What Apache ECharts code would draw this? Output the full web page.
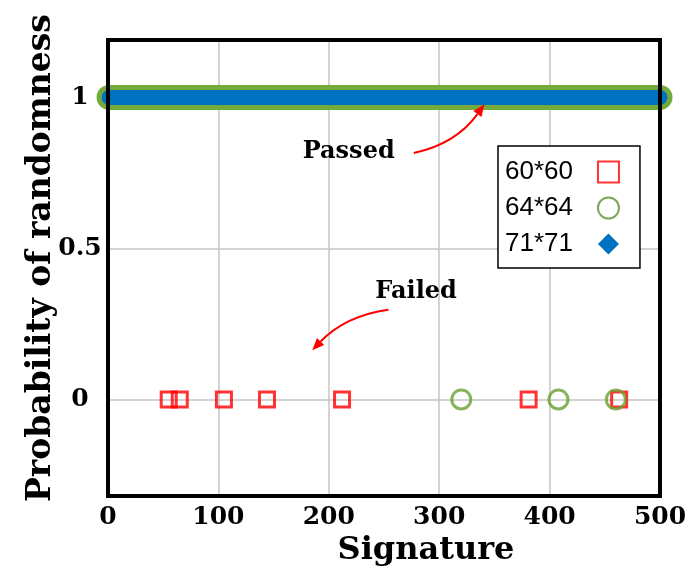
<!DOCTYPE html>
<html><head><meta charset="utf-8">
<script src="https://cdn.jsdelivr.net/npm/echarts@6/dist/echarts.min.js"></script>
<style>html,body{margin:0;padding:0;background:#fff}#c{width:700px;height:572px}</style>
</head><body><div id="c"></div>
<script>
// ---- data ----
const seriesNames = ['60*60', '64*64', '71*71'];
// signatures that failed (probability of randomness = 0)
const failed6060 = [55, 65, 105, 144, 212, 381, 463];
const failed6464 = [320, 408, 460];
const failedValue = 0;
// signatures that passed (probability = 1): dense run across the whole range
const passedRange6464 = [1, 500];
const passedRange7171 = [1, 500];
const passedValue = 1;
const xTicks = [0, 100, 200, 300, 400, 500];
const yTicks = [0, 0.5, 1];
const xTitle = 'Signature';
const yTitle = 'Probability of randomness';
const notePassed = 'Passed';
const noteFailed = 'Failed';

// ---- style ----
const SERIF = 'DejaVu Serif';
const RED = '#ff0000', GREEN = '#74aa3a', CIRCLE_GREEN = '#6aa032', BLUE = '#0070c0';
const X_MIN = xTicks[0], X_MAX = xTicks[xTicks.length - 1];
const Y_MIN = -0.32, Y_MAX = 1.19;

const chart = echarts.init(document.getElementById('c'), null, {renderer: 'canvas'});
const borderLine = {show: true, onZero: false, lineStyle: {color: '#000', width: 4, cap: 'square'}};
const tickFont = {fontFamily: SERIF, fontWeight: 'bold', fontSize: 25, color: '#000'};

chart.setOption({
  animation: false,
  backgroundColor: '#fff',
  grid: {left: 108, right: 40, top: 40, bottom: 72, containLabel: false},
  xAxis: [
    {type: 'value', min: X_MIN, max: X_MAX, interval: 100, position: 'bottom', z: 5,
     axisLine: borderLine, axisTick: {show: false}, splitLine: {show: false},
     axisLabel: Object.assign({margin: 9}, tickFont),
     name: xTitle, nameLocation: 'middle', nameGap: 32,
     nameTextStyle: {fontFamily: SERIF, fontWeight: 'bold', fontSize: 32, color: '#000', padding: [0, 0, 0, 84]}},
    {type: 'value', min: X_MIN, max: X_MAX, interval: 100, position: 'top', z: 5,
     axisLine: borderLine, axisTick: {show: false}, splitLine: {show: false}, axisLabel: {show: false}},
    {type: 'value', min: X_MIN, max: X_MAX, interval: 100, position: 'bottom', z: 0,
     axisLine: {show: false, onZero: false}, axisTick: {show: false}, axisLabel: {show: false},
     splitLine: {show: true, lineStyle: {color: '#c4c4c4', width: 1.5}}}
  ],
  yAxis: [
    {type: 'value', min: Y_MIN, max: Y_MAX, position: 'left', z: 5,
     axisLine: borderLine, axisTick: {show: false, customValues: yTicks}, splitLine: {show: false},
     axisLabel: Object.assign({customValues: yTicks, align: 'center', margin: 28,
       formatter: v => String(v)}, tickFont),
     name: yTitle, nameLocation: 'middle', nameGap: 50, nameRotate: 90, nameMoveOverlap: false,
     nameTextStyle: {fontFamily: SERIF, fontWeight: 'bold', fontSize: 33, color: '#000', padding: [0, 0, 0, 20]}},
    {type: 'value', min: Y_MIN, max: Y_MAX, position: 'right', z: 5,
     axisLine: borderLine, axisTick: {show: false}, splitLine: {show: false}, axisLabel: {show: false}},
    {type: 'value', min: Y_MIN, max: Y_MAX, position: 'left', z: 0,
     axisLine: {show: false, onZero: false}, axisLabel: {show: false, customValues: yTicks},
     axisTick: {show: false, customValues: yTicks},
     splitLine: {show: true, lineStyle: {color: '#c4c4c4', width: 1.5}}}
  ],
  legend: {
    data: [
      {name: seriesNames[0], icon: 'rect'},
      {name: seriesNames[1], icon: 'circle', itemStyle: {borderColor: '#5e8f2e'}},
      {name: seriesNames[2], icon: 'diamond', itemStyle: {color: BLUE, borderWidth: 0}}
    ],
    orient: 'vertical', left: 498, top: 146, align: 'right',
    itemWidth: 21, itemHeight: 21, itemGap: 10,
    padding: [13, 20, 11, 7],
    borderColor: '#000', borderWidth: 1.5, backgroundColor: '#fff',
    textStyle: {fontFamily: 'Liberation Sans', fontSize: 26, color: '#000', lineHeight: 26, padding: [0, 20, 0, 0]},
    selectedMode: false
  },
  series: [
    {name: seriesNames[1] + ' passed', type: 'line', xAxisIndex: 0, yAxisIndex: 0,
     data: passedRange6464.map(x => [x, passedValue]), symbol: 'none', clip: false, z: 2,
     lineStyle: {color: GREEN, width: 25, cap: 'round'}},
    {name: seriesNames[2], type: 'line', xAxisIndex: 0, yAxisIndex: 0,
     data: passedRange7171.map(x => [x, passedValue]), symbol: 'none', clip: false, z: 3,
     itemStyle: {color: BLUE}, lineStyle: {color: BLUE, width: 15, cap: 'round'}},
    {name: seriesNames[0], type: 'scatter', xAxisIndex: 0, yAxisIndex: 0,
     data: failed6060.map(x => [x, failedValue]), symbol: 'rect', symbolSize: 15, z: 4,
     itemStyle: {color: 'rgba(255,255,255,0)', borderColor: RED, borderWidth: 3}},
    {name: seriesNames[1], type: 'scatter', xAxisIndex: 0, yAxisIndex: 0,
     data: failed6464.map(x => [x, failedValue]), symbol: 'circle', symbolSize: 19, z: 4,
     itemStyle: {color: 'rgba(255,255,255,0)', borderColor: CIRCLE_GREEN, borderWidth: 3}}
  ]
});

// ---- annotations (placed in data coordinates) ----
const notes = [
  {text: notePassed, at: [218, 0.82], arrow: [[277, 0.816], [315, 0.846], [341, 0.977]]},
  {text: noteFailed, at: [279, 0.357], arrow: [[254, 0.297], [215, 0.277], [185, 0.163]]}
];
const px = p => chart.convertToPixel({xAxisIndex: 0, yAxisIndex: 0}, p);
const graphics = [];
notes.forEach(n => {
  const c = px(n.at);
  graphics.push({type: 'text', x: c[0], y: c[1], z: 10,
    style: {text: n.text, fontFamily: SERIF, fontWeight: 'bold', fontSize: 24, fill: '#000',
      textAlign: 'center', textVerticalAlign: 'middle'}});
  const [a, b, t] = n.arrow.map(px);
  const ang = Math.atan2(t[1] - b[1], t[0] - b[0]);
  const L = 12, W = 5;
  const base = [t[0] - L * Math.cos(ang), t[1] - L * Math.sin(ang)];
  graphics.push({type: 'bezierCurve', z: 10,
    shape: {x1: a[0], y1: a[1], cpx1: b[0], cpy1: b[1], x2: base[0], y2: base[1]},
    style: {stroke: RED, lineWidth: 2, fill: null}});
  graphics.push({type: 'polygon', z: 10,
    shape: {points: [t,
      [base[0] + W * Math.sin(ang), base[1] - W * Math.cos(ang)],
      [base[0] - W * Math.sin(ang), base[1] + W * Math.cos(ang)]]},
    style: {fill: RED}});
});
chart.setOption({graphic: graphics});
</script>
</body></html>
